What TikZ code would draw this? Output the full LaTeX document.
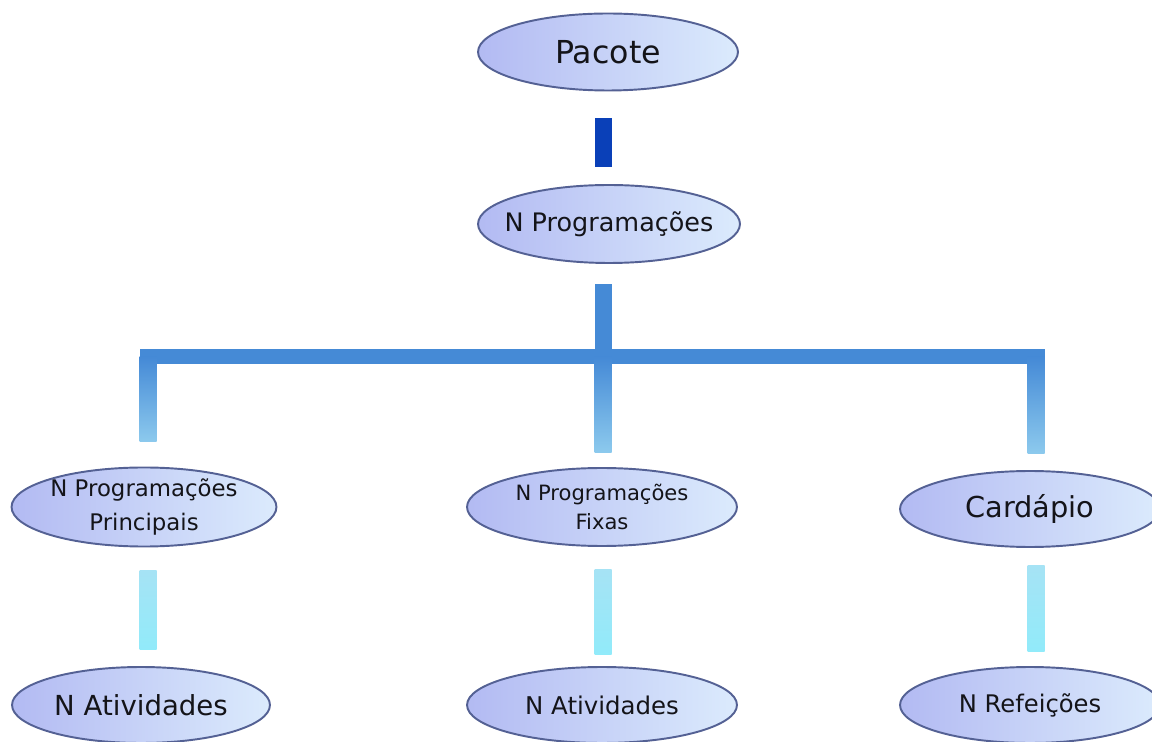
\documentclass[tikz,border=0pt]{standalone}
\usepackage{fontspec}
\setmainfont{DejaVu Sans}
\usetikzlibrary{shapes.geometric,calc}
\definecolor{bbccff}{rgb}{0.70,0.73,0.95}
\definecolor{ddeeff}{rgb}{0.86,0.92,0.99}
\definecolor{sstttz}{rgb}{0.33,0.38,0.58}
\definecolor{qqddbb}{rgb}{0.04,0.25,0.72}
\definecolor{mmaadd}{rgb}{0.27,0.54,0.84}
\definecolor{aaccee}{rgb}{0.55,0.79,0.93}
\definecolor{bbeeff}{rgb}{0.65,0.89,0.96}
\definecolor{aaeeff}{rgb}{0.57,0.92,0.98}
\definecolor{txtgray}{rgb}{0.08,0.08,0.1}
\tikzset{
  oval/.style={ellipse,draw=sstttz,line width=1.1pt,left color=bbccff,right color=ddeeff,
    inner ysep=0pt,inner xsep=-25pt,minimum width=5.24cm,minimum height=1.56cm,align=center,text=txtgray},
}

\begin{document}
\begin{tikzpicture}[line cap=round,line join=round,x=0.02cm,y=-0.02cm]
\useasboundingbox (0,0) rectangle (1152,742);
% ovals
\node[oval,minimum width=5.2cm,minimum height=1.54cm,font=\fontsize{18}{20}\selectfont] (pac) at (608,52) {Pacote};
\node[oval,font=\fontsize{14.5}{17}\selectfont] (prog) at (609,224) {N Programações};
\node[oval,minimum width=5.3cm,font=\fontsize{13}{19}\selectfont] (pp) at (144,507) {N Programações\\Principais};
\node[oval,minimum width=5.4cm,font=\fontsize{12}{17}\selectfont] (pf) at (602,507) {N Programações\\Fixas};
\node[oval,minimum width=5.2cm,minimum height=1.52cm,font=\fontsize{16.4}{19}\selectfont] (card) at (1030,509) {Cardápio};
\node[oval,minimum width=5.16cm,minimum height=1.52cm,font=\fontsize{15.7}{18}\selectfont] (at1) at (141,705) {N Atividades};
\node[oval,minimum width=5.4cm,minimum height=1.52cm,font=\fontsize{13.9}{16}\selectfont] (at2) at (602,705) {N Atividades};
\node[oval,minimum width=5.2cm,minimum height=1.52cm,font=\fontsize{13.8}{16}\selectfont] (ref) at (1030,705) {N Refeições};
% bars
\coordinate (hub) at (603,357);
\coordinate (barL) at (148,357);
\coordinate (barR) at (1036,357);
\fill[qqddbb] ($(pac.south -| hub)+(-8.5,27)$) rectangle ($(prog.north -| hub)+(8.5,-17)$);
\fill[mmaadd] ($(prog.south -| hub)+(-8.5,20)$) rectangle ($(hub)+(8.5,0)$);
\fill[mmaadd] ($(barL)+(-8.5,-7.5)$) rectangle ($(barR)+(8.5,7.5)$);
\shade[top color=mmaadd,bottom color=aaccee] ($(barL)+(-8.5,0)$) rectangle ($(pp.north -| barL)+(8.5,-25)$);
\shade[top color=mmaadd,bottom color=aaccee] ($(hub)+(-8.5,0)$) rectangle ($(pf.north -| hub)+(8.5,-15)$);
\shade[top color=mmaadd,bottom color=aaccee] ($(barR)+(-8.5,0)$) rectangle ($(card.north -| barR)+(8.5,-17)$);
\shade[top color=bbeeff,bottom color=aaeeff] ($(pp.south -| barL)+(-8.5,23)$) rectangle ($(at1.north -| barL)+(8.5,-17)$);
\shade[top color=bbeeff,bottom color=aaeeff] ($(pf.south -| hub)+(-8.5,23)$) rectangle ($(at2.north -| hub)+(8.5,-12)$);
\shade[top color=bbeeff,bottom color=aaeeff] ($(card.south -| barR)+(-8.5,18)$) rectangle ($(ref.north -| barR)+(8.5,-15)$);
\end{tikzpicture}
\end{document}
